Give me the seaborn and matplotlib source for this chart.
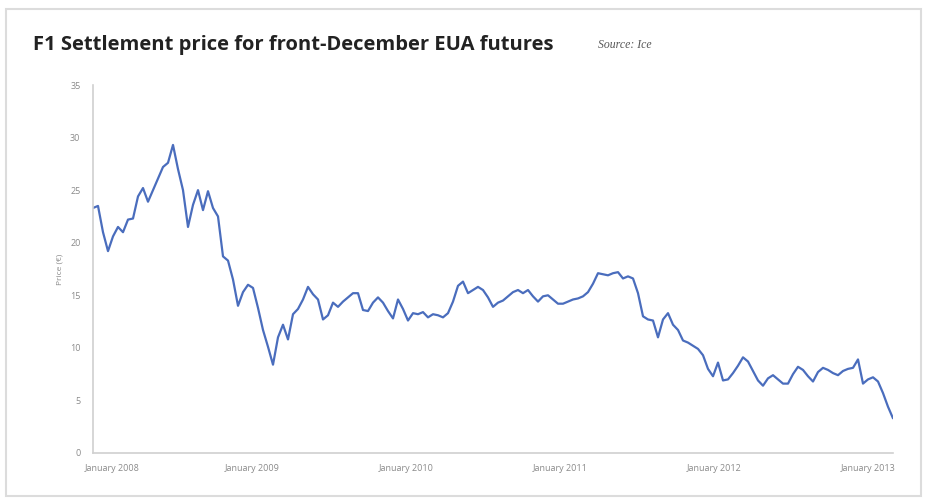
import matplotlib
matplotlib.use("Agg")
import matplotlib.pyplot as plt
import matplotlib.transforms as mtransforms
from matplotlib.patches import Rectangle
import seaborn as sns
import pandas as pd
import numpy as np

# ---- data ----
start_date = "2007-12-21"
end_date = "2013-03-01"
price = [
    23.3, 23.5, 21.0, 19.2, 20.6, 21.5, 21.0, 22.2, 22.3, 24.4,
    25.2, 23.9, 25.0, 26.1, 27.2, 27.6, 29.3, 27.0, 25.0, 21.5,
    23.6, 25.0, 23.1, 24.9, 23.3, 22.5, 18.7, 18.3, 16.5, 14.0,
    15.3, 16.0, 15.7, 13.8, 11.7, 10.1, 8.4, 11.0, 12.2, 10.8,
    13.2, 13.7, 14.6, 15.8, 15.1, 14.6, 12.7, 13.1, 14.3, 13.9,
    14.4, 14.8, 15.2, 15.2, 13.6, 13.5, 14.3, 14.8, 14.3, 13.5,
    12.8, 14.6, 13.7, 12.6, 13.3, 13.2, 13.4, 12.9, 13.2, 13.1,
    12.9, 13.3, 14.4, 15.9, 16.3, 15.2, 15.5, 15.8, 15.5, 14.8,
    13.9, 14.3, 14.5, 14.9, 15.3, 15.5, 15.2, 15.5, 14.9, 14.4,
    14.9, 15.0, 14.6, 14.2, 14.2, 14.4, 14.6, 14.7, 14.9, 15.3,
    16.1, 17.1, 17.0, 16.9, 17.1, 17.2, 16.6, 16.8, 16.6, 15.2,
    13.0, 12.7, 12.6, 11.0, 12.7, 13.3, 12.2, 11.7, 10.7, 10.5,
    10.2, 9.9, 9.3, 8.0, 7.3, 8.6, 6.9, 7.0, 7.6, 8.3,
    9.1, 8.7, 7.8, 6.9, 6.4, 7.1, 7.4, 7.0, 6.6, 6.6,
    7.5, 8.2, 7.9, 7.3, 6.8, 7.7, 8.1, 7.9, 7.6, 7.4,
    7.8, 8.0, 8.1, 8.9, 6.6, 7.0, 7.2, 6.8, 5.7, 4.4,
    3.3,
]
tick_dates = ["2008-01-01", "2009-01-01", "2010-01-01",
              "2011-01-01", "2012-01-01", "2013-01-01"]
tick_labels = ["January 2008", "January 2009", "January 2010",
               "January 2011", "January 2012", "January 2013"]
y_ticks = [0, 5, 10, 15, 20, 25, 30, 35]

title = "F1 Settlement price for front-December EUA futures"
source = "Source: Ice"
ylabel = "Price (\u20ac)"

dates = pd.date_range(start_date, end_date, periods=len(price))
df = pd.DataFrame({"date": dates, "price": price})

# ---- figure ----
sns.set_theme(style="white")
plt.rcParams["font.family"] = ["Open Sans", "DejaVu Sans"]

fig = plt.figure(figsize=(9.32, 5.04), dpi=100)
ax = fig.add_axes([93 / 932, 1 - 453 / 504, 800 / 932, (453 - 85) / 504])

sns.lineplot(data=df, x="date", y="price", ax=ax, color="#4a6dbd",
             linewidth=1.6)

ax.set_xlim(dates[0], dates[-1])
ax.set_ylim(0, 35)
ax.set_yticks(y_ticks)
ax.set_yticklabels([str(v) for v in y_ticks])
ax.set_xticks(pd.to_datetime(tick_dates))
ax.set_xticklabels(tick_labels)

for s in ["top", "right"]:
    ax.spines[s].set_visible(False)
for s in ["left", "bottom"]:
    ax.spines[s].set_color("#d0d0d0")
    ax.spines[s].set_linewidth(1.2)

ax.tick_params(axis="y", length=0, pad=9, labelsize=6.5, labelcolor="#8a8a8a")
ax.tick_params(axis="x", length=0, pad=8, labelsize=6.5, labelcolor="#8a8a8a")
ax.set_xlabel("")
ax.set_ylabel(ylabel, fontsize=6, color="#8a8a8a", labelpad=5)

# shift the first x label right, as in the reference
lbl0 = ax.get_xticklabels()[0]
lbl0.set_transform(lbl0.get_transform() +
                   mtransforms.ScaledTranslation(14 / 100, 0, fig.dpi_scale_trans))

fig.text(33 / 932, 1 - 45 / 504, title, fontsize=14.5, fontweight="bold",
         color="#222222", va="center", ha="left")
fig.text(598 / 932, 1 - 45 / 504, source, fontsize=8.5, style="italic",
         family="Liberation Serif", color="#555555", va="center", ha="left")

fig.patches.append(Rectangle((6 / 932, 1 - 496 / 504), 915 / 932, 487 / 504,
                             transform=fig.transFigure, fill=False,
                             edgecolor="#dcdcdc", linewidth=1.5))

fig.savefig("out.png", dpi=100)
